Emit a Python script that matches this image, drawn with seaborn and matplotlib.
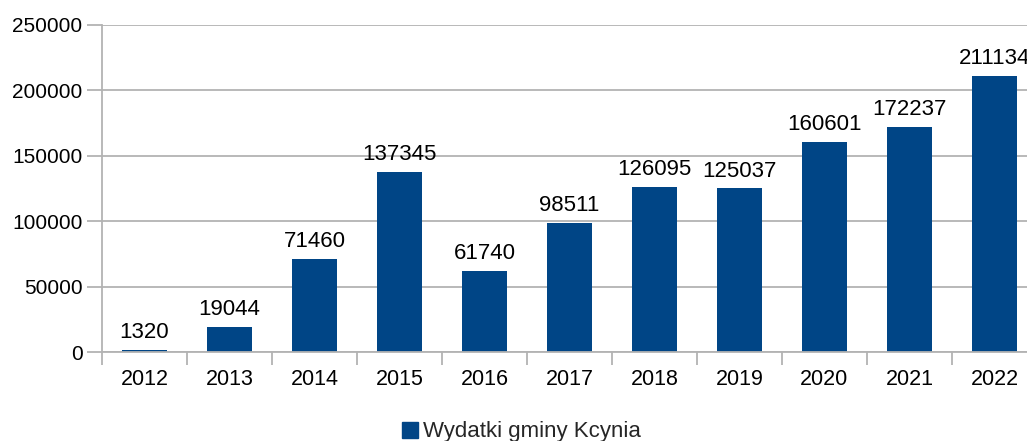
import matplotlib
matplotlib.use("Agg")
import matplotlib.pyplot as plt
import seaborn as sns
import pandas as pd
from matplotlib.lines import Line2D
from matplotlib.ticker import FixedLocator, MultipleLocator

years = ["2012", "2013", "2014", "2015", "2016", "2017", "2018", "2019", "2020", "2021", "2022"]
values = [1320, 19044, 71460, 137345, 61740, 98511, 126095, 125037, 160601, 172237, 211134]
series_name = "Wydatki gminy Kcynia"

sns.set_style("white")
plt.rcParams['font.family'] = ['Liberation Sans', 'DejaVu Sans']

W, H = 1027, 441
fig = plt.figure(figsize=(W / 100, H / 100), dpi=100)
ax = fig.add_axes([102 / W, 1 - 352 / H, 935 / W, (352 - 25) / H])

df = pd.DataFrame({"year": years, "value": values})
BLUE = "#004586"
GRID = "#b3b3b3"
sns.barplot(data=df, x="year", y="value", color=BLUE, width=0.52, ax=ax,
            saturation=1, edgecolor="none", linewidth=0)

ax.set_xlim(-0.5, len(years) - 0.5)
ax.set_ylim(0, 250000)
ax.yaxis.set_major_locator(MultipleLocator(50000))
ax.grid(axis="y", color=GRID, linewidth=1.3)
ax.set_axisbelow(True)
ax.set_xlabel("")
ax.set_ylabel("")

for s in ["top", "right"]:
    ax.spines[s].set_visible(False)
for s in ["left", "bottom"]:
    ax.spines[s].set_color(GRID)
    ax.spines[s].set_linewidth(1.3)

ax.tick_params(axis="y", which="major", length=11, width=1.3, color=GRID,
               labelsize=15, labelcolor="black", pad=3, left=True)
ax.tick_params(axis="x", which="major", length=0, labelsize=15.5, labelcolor="black", pad=12)
ax.xaxis.set_minor_locator(FixedLocator([i - 0.5 for i in range(len(years) + 1)]))
ax.tick_params(axis="x", which="minor", length=9, width=1.3, color=GRID, bottom=True)

ax.bar_label(ax.containers[0], labels=[str(v) for v in values], padding=5,
             fontsize=16, color="black")

handle = Line2D([], [], marker="s", linestyle="none", markersize=11,
                markerfacecolor=BLUE, markeredgecolor=BLUE)
fig.legend(handles=[handle], labels=[series_name], loc="center",
           bbox_to_anchor=(520 / W, 1 - 432 / H), frameon=False, fontsize=16,
           handletextpad=0.1, handlelength=1.0)

fig.savefig("out.png", dpi=100)
